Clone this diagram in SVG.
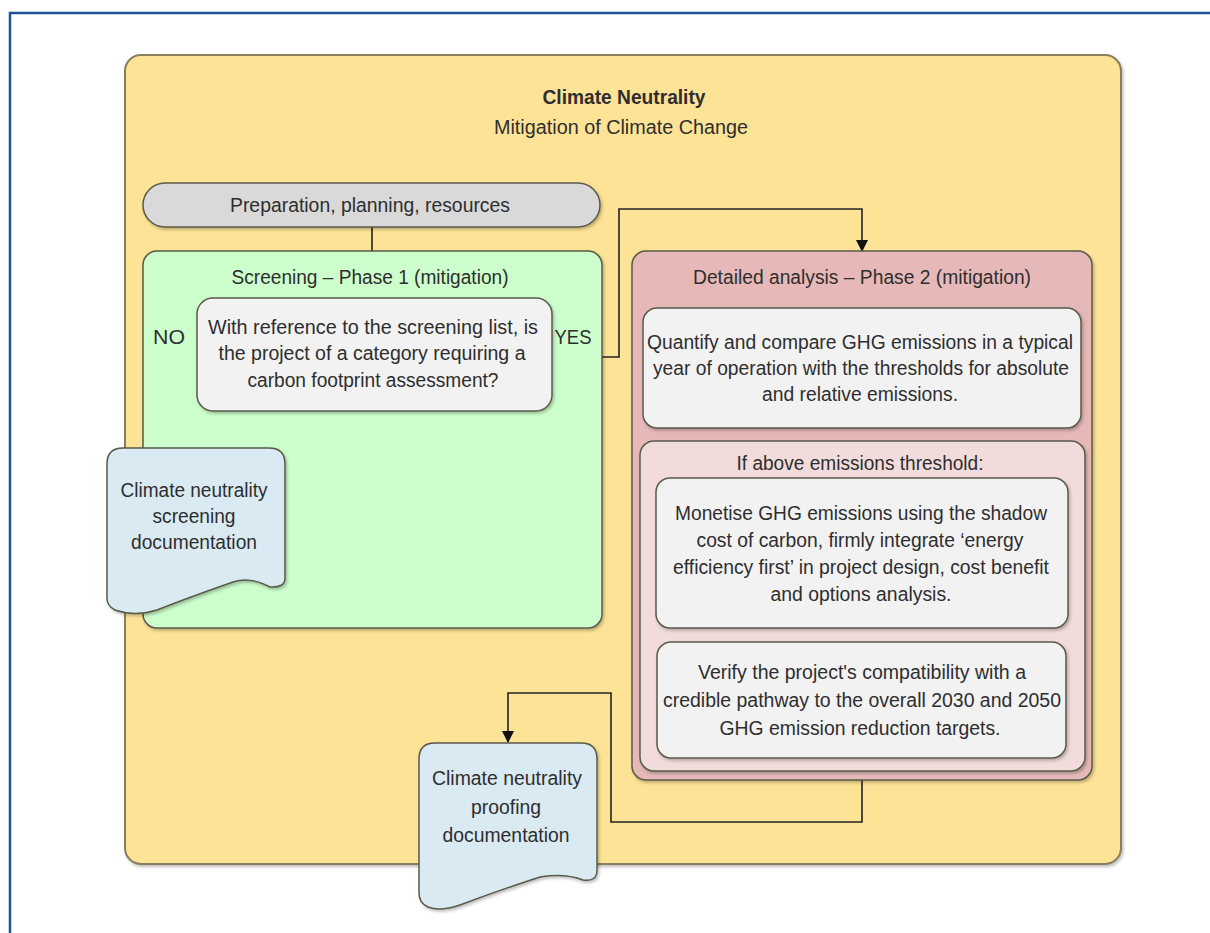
<svg xmlns="http://www.w3.org/2000/svg" width="1210" height="933" viewBox="0 0 1210 933">
<style>
text{font-family:"Liberation Sans",Arial,sans-serif;font-size:20px;fill:#2e2e2e;text-anchor:middle}
.b{stroke:#5a5a4a;stroke-width:1.5;filter:url(#sh)}
.c{fill:none;stroke:#222;stroke-width:1.6}
</style>
<defs>
<filter id="sh" x="-5%" y="-5%" width="112%" height="115%">
<feDropShadow dx="1.5" dy="2" stdDeviation="1.5" flood-color="#000" flood-opacity="0.25"/>
</filter>
<marker id="ah" viewBox="0 0 12 12" refX="11" refY="6" markerWidth="12" markerHeight="12" markerUnits="userSpaceOnUse" orient="auto">
<path d="M0,0 L12,6 L0,12 z" fill="#111"/>
</marker>
</defs>
<rect width="1210" height="933" fill="#fff"/>
<rect x="10" y="13" width="1220" height="940" fill="none" stroke="#1f5496" stroke-width="2.5"/>
<g id="outer">
<rect x="125" y="55" width="996" height="809" rx="16" fill="#fde396" stroke="#8a7e5c" stroke-width="2" style="filter:url(#sh)"/>
<text x="624" y="104" style="font-weight:bold" textLength="163" lengthAdjust="spacingAndGlyphs">Climate Neutrality</text>
<text x="621" y="134" textLength="254" lengthAdjust="spacingAndGlyphs">Mitigation of Climate Change</text>
</g>
<g id="connectors">
<path class="c" d="M372,227 V251"/>
<path class="c" d="M197,357 H159 V428 H198 V447" marker-end="url(#ah)"/>
<path class="c" d="M552,357 H619 V209 H862 V251" marker-end="url(#ah)"/>
<path class="c" d="M862,428 V441"/>
<path class="c" d="M862,628 V642"/>
<path class="c" d="M862,780 V822 H611 V693 H508 V742" marker-end="url(#ah)"/>
</g>
<g id="prep">
<rect x="143" y="183" width="457" height="44" rx="22" fill="#d9d9d9" class="b"/>
<text x="370" y="212" textLength="280" lengthAdjust="spacingAndGlyphs">Preparation, planning, resources</text>
</g>
<g id="screening">
<rect x="143" y="251" width="459" height="377" rx="14" fill="#ccffcc" class="b"/>
<text x="370" y="284" textLength="277" lengthAdjust="spacingAndGlyphs">Screening – Phase 1 (mitigation)</text>
</g>
<g id="decision">
<rect x="197" y="298" width="355" height="113" rx="16" fill="#f2f2f2" class="b"/>
<text x="373" y="334" textLength="330" lengthAdjust="spacingAndGlyphs">With reference to the screening list, is</text>
<text x="372" y="360" textLength="307" lengthAdjust="spacingAndGlyphs">the project of a category requiring a</text>
<text x="373" y="387" textLength="251" lengthAdjust="spacingAndGlyphs">carbon footprint assessment?</text>
</g>
<g id="labels">
<text x="169" y="344" textLength="32" lengthAdjust="spacingAndGlyphs">NO</text>
<text x="573" y="344" textLength="37" lengthAdjust="spacingAndGlyphs">YES</text>
</g>
<g id="screeningdoc">
<path d="M107,464 Q107,448 123,448 H269 Q285,448 285,464 V578 Q285,588 270,587 Q250,576 233,582 Q190,597 157,610 Q135,617 115,610 Q107,606 107,598 Z" fill="#daeaf2" class="b"/>
<text x="194" y="497" textLength="147" lengthAdjust="spacingAndGlyphs">Climate neutrality</text>
<text x="194" y="523" textLength="83" lengthAdjust="spacingAndGlyphs">screening</text>
<text x="194" y="549" textLength="126" lengthAdjust="spacingAndGlyphs">documentation</text>
</g>
<g id="detailed">
<rect x="632" y="251" width="460" height="529" rx="14" fill="#e6b9b8" class="b"/>
<text x="862" y="284" textLength="338" lengthAdjust="spacingAndGlyphs">Detailed analysis – Phase 2 (mitigation)</text>
</g>
<g id="quantify">
<rect x="643" y="308" width="438" height="120" rx="14" fill="#f2f2f2" class="b"/>
<text x="860" y="349" textLength="426" lengthAdjust="spacingAndGlyphs">Quantify and compare GHG emissions in a typical</text>
<text x="861" y="375" textLength="416" lengthAdjust="spacingAndGlyphs">year of operation with the thresholds for absolute</text>
<text x="860" y="401" textLength="196" lengthAdjust="spacingAndGlyphs">and relative emissions.</text>
</g>
<g id="threshold">
<rect x="640" y="441" width="445" height="330" rx="14" fill="#f2dcdb" class="b"/>
<text x="860" y="470" textLength="247" lengthAdjust="spacingAndGlyphs">If above emissions threshold:</text>
</g>
<g id="monetise">
<rect x="656" y="478" width="412" height="150" rx="14" fill="#f2f2f2" class="b"/>
<text x="861" y="520" textLength="372" lengthAdjust="spacingAndGlyphs">Monetise GHG emissions using the shadow</text>
<text x="860" y="547" textLength="327" lengthAdjust="spacingAndGlyphs">cost of carbon, firmly integrate ‘energy</text>
<text x="861" y="574" textLength="376" lengthAdjust="spacingAndGlyphs">efficiency first’ in project design, cost benefit</text>
<text x="861" y="601" textLength="181" lengthAdjust="spacingAndGlyphs">and options analysis.</text>
</g>
<g id="verify">
<rect x="657" y="642" width="409" height="116" rx="14" fill="#f2f2f2" class="b"/>
<text x="862" y="679" textLength="328" lengthAdjust="spacingAndGlyphs">Verify the project's compatibility with a</text>
<text x="862" y="707" textLength="398" lengthAdjust="spacingAndGlyphs">credible pathway to the overall 2030 and 2050</text>
<text x="860" y="735" textLength="281" lengthAdjust="spacingAndGlyphs">GHG emission reduction targets.</text>
</g>
<g id="proofdoc">
<path d="M419,759 Q419,743 435,743 H581 Q597,743 597,759 V870 Q597,882 583,880 Q565,873 540,877 Q500,890 460,905 Q440,912 428,907 Q419,903 419,893 Z" fill="#daeaf2" class="b"/>
<text x="507" y="785" textLength="150" lengthAdjust="spacingAndGlyphs">Climate neutrality</text>
<text x="506" y="814" textLength="70" lengthAdjust="spacingAndGlyphs">proofing</text>
<text x="506" y="842" textLength="127" lengthAdjust="spacingAndGlyphs">documentation</text>
</g>
</svg>
